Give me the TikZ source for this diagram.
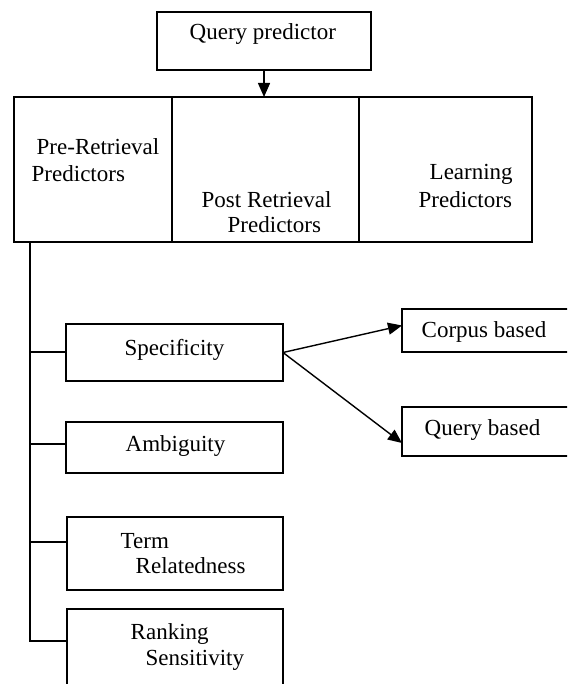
\documentclass[tikz,border=0pt]{standalone}
\usepackage{fontspec}
\setmainfont{Liberation Serif}
\usetikzlibrary{arrows.meta,positioning}
\tikzset{
  box/.style={draw,line width=.7pt,minimum width=#1,inner sep=0pt,outer sep=0pt},
  lbl/.style={anchor=base west,inner sep=0pt,font=\fontsize{11.5}{13.5}\selectfont},
  tip/.style={-{Triangle[length=7pt,width=6pt]}}
}
\begin{document}
\begin{tikzpicture}[x=.5pt,y=-.5pt,line width=.7pt]
  \useasboundingbox (0,0) rectangle (567,684);
  \clip (0,0) rectangle (567,684);
  % top level
  \node[box=107pt,minimum height=29pt] (qp) at (264,41) {};
  \node[box=79pt,minimum height=72.5pt] (pre) at (93,169.5) {};
  \node[box=93.5pt,minimum height=72.5pt] (post) at (265.5,169.5) {};
  \node[box=86.5pt,minimum height=72.5pt] (learn) at (445.5,169.5) {};
  \draw[tip] (qp.south) -- (qp.south |- post.north);
  \node[lbl] (qp-t) at (189,40) {Query predictor};
  \node[lbl] (pre-t1) at (36,155) {Pre-Retrieval};
  \node[lbl] (pre-t2) at (31,182) {Predictors};
  \node[lbl] (post-t1) at (201,207) {Post Retrieval};
  \node[lbl] (post-t2) at (227,232) {Predictors};
  \node[lbl] (learn-t1) at (429,180) {Learning};
  \node[lbl] (learn-t2) at (418,207) {Predictors};
  % pre-retrieval branches
  \node[box=108.5pt,minimum height=28.5pt] (spec) at (174.5,352.5) {};
  \node[box=108.5pt,minimum height=25.5pt] (amb) at (174.5,447.5) {};
  \node[box=108pt,minimum height=36.5pt] (term) at (175,553.5) {};
  \node[box=108pt,minimum height=45.5pt] (rank) at (175,654.5) {};
  \node[lbl] (spec-t) at (124,355) {Specificity};
  \node[lbl] (amb-t) at (125,451) {Ambiguity};
  \node[lbl] (term-t1) at (120,548) {Term};
  \node[lbl] (term-t2) at (135,573) {Relatedness};
  \node[lbl] (rank-t1) at (130,639) {Ranking};
  \node[lbl] (rank-t2) at (145,665) {Sensitivity};
  \coordinate (spine) at ([xshift=8pt]pre.south west);
  \draw (spine) |- ([yshift=6.75pt]rank.west);
  \draw ([yshift=.25pt]spec.west) -- ([yshift=.25pt]spec.west -| spine);
  \draw ([yshift=1.75pt]amb.west) -- ([yshift=1.75pt]amb.west -| spine);
  \draw ([yshift=5.75pt]term.west) -- ([yshift=5.75pt]term.west -| spine);
  % specificity split
  \node[box=89pt,minimum height=21.5pt] (corpus) at (491,330.5) {};
  \node[box=89pt,minimum height=24.5pt] (query) at (491,431.5) {};
  \node[lbl] (corpus-t) at (421,337) {Corpus based};
  \node[lbl] (query-t) at (424,435) {Query based};
  \draw[tip] (spec.east) -- ([yshift=2.5pt]corpus.west);
  \draw[tip] (spec.east) -- ([yshift=-5.75pt]query.west);
\end{tikzpicture}
\end{document}
